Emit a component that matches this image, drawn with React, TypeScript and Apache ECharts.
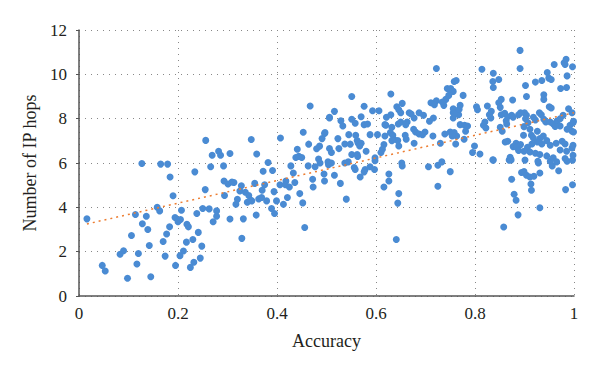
import React, { useEffect, useRef } from "react";
import * as echarts from "echarts";

const xTicks = [0, 0.2, 0.4, 0.6, 0.8, 1];
const yTicks = [0, 2, 4, 6, 8, 10, 12];

// [accuracy, IP hops], grouped by region
const lowRegion: [number, number][] = [
  [0.127,5.98],[0.165,5.95],[0.179,5.95],[0.234,5.6],[0.184,5.37],[0.255,4.8],[0.19,4.52],[0.158,4.0],
  [0.163,3.84],[0.207,3.87],[0.25,3.95],[0.016,3.48],[0.114,3.68],[0.136,3.6],[0.194,3.54],[0.205,3.45],
  [0.2,3.35],[0.238,3.72],[0.128,3.26],[0.139,3.0],[0.183,3.12],[0.218,3.24],[0.221,3.12],[0.241,2.87],
  [0.177,2.8],[0.106,2.73],[0.142,2.28],[0.17,2.46],[0.217,2.43],[0.23,2.55],[0.09,2.04],[0.083,1.88],
  [0.12,1.92],[0.211,2.03],[0.204,1.82],[0.248,2.25],[0.174,1.8],[0.232,1.52],[0.245,1.71],[0.195,1.38],
  [0.225,1.29],[0.117,1.44],[0.047,1.38],[0.053,1.13],[0.098,0.8],[0.145,0.87],
];

const midUpper: [number, number][] = [
  [0.467,8.57],[0.506,8.03],[0.256,7.02],[0.348,7.06],[0.407,7.13],[0.453,7.39],[0.496,7.33],[0.491,7.1],
  [0.464,6.85],[0.486,6.76],[0.48,6.64],[0.441,6.62],[0.282,6.53],[0.269,6.35],[0.286,6.35],[0.305,6.43],
  [0.359,6.41],[0.438,6.25],[0.444,6.3],[0.45,6.25],[0.484,6.18],[0.503,6.05],[0.382,6.02],
];

const midLower: [number, number][] = [
  [0.266,5.83],[0.292,5.87],[0.372,5.63],[0.391,5.66],[0.428,5.87],[0.433,5.55],[0.463,5.87],[0.477,5.83],
  [0.487,6.0],[0.495,5.5],[0.496,5.19],[0.472,5.27],[0.473,4.92],[0.293,5.19],[0.301,5.05],[0.309,5.14],
  [0.313,5.12],[0.328,4.97],[0.325,4.74],[0.355,5.08],[0.375,5.02],[0.37,4.77],[0.394,4.71],[0.406,5.02],
  [0.418,5.19],[0.417,5.02],[0.425,4.92],[0.436,5.12],[0.446,4.62],[0.294,4.53],[0.336,4.68],[0.343,4.53],
  [0.347,4.32],[0.32,4.36],[0.317,4.14],[0.34,4.23],[0.349,4.29],[0.363,4.38],[0.369,4.44],[0.379,4.29],
  [0.399,4.29],[0.413,4.14],[0.421,4.44],[0.452,4.2],[0.389,3.95],[0.395,3.72],[0.358,3.65],[0.263,3.93],
  [0.278,3.84],[0.278,3.6],[0.271,3.35],[0.305,3.47],[0.332,3.48],[0.456,3.09],[0.329,2.6],
];

const centerLower: [number, number][] = [
  [0.516,5.45],[0.528,5.08],[0.54,4.37],[0.504,5.92],[0.51,6.0],[0.537,6.0],[0.544,6.05],[0.556,5.8],
  [0.558,5.71],[0.568,5.37],[0.578,5.71],[0.576,5.6],[0.588,5.83],[0.597,5.71],[0.598,6.1],[0.626,5.5],
  [0.626,5.19],[0.616,4.92],[0.646,4.62],[0.644,4.19],[0.641,2.55],[0.652,6.0],[0.653,5.87],[0.706,5.83],
  [0.725,5.9],[0.733,6.05],[0.725,4.95],[0.75,5.61],
];

const rightLower: [number, number][] = [
  [0.837,6.13],[0.869,6.13],[0.901,6.13],[0.928,6.0],[0.956,5.87],[0.986,6.08],[0.997,6.13],[0.969,5.65],
  [0.894,5.57],[0.899,5.61],[0.904,5.45],[0.911,5.37],[0.919,5.4],[0.931,5.55],[0.874,5.27],[0.913,5.05],
  [0.914,4.77],[0.879,4.59],[0.883,4.32],[0.997,5.02],[0.983,4.8],[0.931,3.98],[0.887,3.66],[0.858,3.11],
];

const centerUpper: [number, number][] = [
  [0.722,10.26],[0.63,9.11],[0.551,9.0],[0.576,8.56],[0.653,8.69],[0.642,8.54],[0.646,8.4],[0.65,8.27],
  [0.593,8.36],[0.606,8.36],[0.516,8.33],[0.506,8.06],[0.529,7.91],[0.533,7.67],[0.551,7.97],[0.558,7.79],
  [0.57,8.09],[0.576,7.73],[0.583,7.76],[0.621,8.06],[0.63,8.18],[0.618,7.73],[0.632,7.61],[0.629,7.37],
  [0.645,7.76],[0.65,7.85],[0.667,8.27],[0.671,8.21],[0.663,7.85],[0.66,7.73],[0.687,8.27],[0.696,8.15],
  [0.677,8.03],[0.708,7.88],[0.716,8.03],[0.711,8.72],[0.722,8.81],[0.718,8.63],[0.737,8.6],[0.741,8.87],
  [0.734,8.75],[0.744,9.36],[0.752,9.27],[0.747,9.05],[0.758,9.68],[0.756,8.45],[0.756,8.27],[0.497,7.37],
  [0.523,7.1],[0.545,7.28],[0.559,7.25],[0.562,7.01],[0.564,6.89],[0.57,6.89],[0.567,6.77],[0.537,6.86],
  [0.548,6.85],[0.525,6.65],[0.551,6.38],[0.562,6.38],[0.563,6.29],[0.58,6.53],[0.588,7.28],[0.603,7.28],
  [0.62,7.7],[0.618,7.22],[0.636,7.07],[0.634,7.25],[0.644,7.01],[0.646,6.77],[0.632,7.01],[0.659,7.25],
  [0.661,7.07],[0.676,7.52],[0.68,7.4],[0.687,7.31],[0.699,7.4],[0.694,7.28],[0.616,6.83],[0.613,6.62],
  [0.598,6.23],[0.61,6.47],[0.677,6.89],[0.715,7.22],[0.73,6.89],[0.739,7.31],[0.75,7.4],[0.758,7.37],
  [0.754,7.22],[0.506,6.65],[0.51,6.47],
];

const rightUpper: [number, number][] = [
  [0.891,11.08],[0.891,10.26],[0.814,10.23],[0.837,10.05],[0.984,10.68],[0.98,10.52],[0.997,10.34],[0.982,10.44],
  [0.96,10.44],[0.762,9.72],[0.836,9.68],[0.848,9.77],[0.837,9.41],[0.902,9.5],[0.922,9.65],[0.935,9.72],
  [0.946,10.08],[0.949,9.83],[0.954,9.77],[0.986,9.93],[0.973,9.36],[0.985,9.41],[0.776,9.05],[0.751,9.36],
  [0.756,9.23],[0.853,8.87],[0.848,8.72],[0.851,8.51],[0.904,9.0],[0.939,9.08],[0.939,8.87],[0.95,8.54],
  [0.954,8.48],[0.989,8.45],[0.996,8.27],[0.77,8.6],[0.803,8.54],[0.805,8.4],[0.825,8.57],[0.833,8.33],
  [0.829,8.18],[0.832,8.03],[0.82,7.85],[0.817,7.7],[0.822,7.58],[0.756,8.03],[0.767,8.18],[0.77,7.73],
  [0.779,7.7],[0.853,8.18],[0.86,8.24],[0.866,8.09],[0.874,8.15],[0.877,8.06],[0.863,7.91],[0.864,7.76],
  [0.851,7.61],[0.855,7.43],[0.9,8.27],[0.904,8.15],[0.902,8.0],[0.918,8.06],[0.922,7.94],[0.907,7.82],
  [0.899,7.64],[0.898,7.25],[0.911,7.52],[0.93,8.27],[0.934,8.18],[0.939,7.97],[0.943,7.85],[0.952,7.85],
  [0.958,7.76],[0.966,7.91],[0.972,8.0],[0.978,8.15],[0.972,7.67],[0.962,7.65],[0.992,7.7],[0.998,7.82],
  [0.999,7.88],[0.986,7.52],[0.996,7.43],[0.999,7.4],[0.926,7.43],[0.914,7.25],[0.918,7.13],[0.931,7.1],
  [0.938,7.22],[0.945,7.01],[0.926,6.95],[0.915,6.86],[0.935,6.86],[0.952,6.8],[0.964,6.89],[0.976,6.98],
  [0.982,6.86],[0.972,6.59],[0.985,6.53],[0.996,6.68],[0.998,6.8],[0.866,6.98],[0.861,6.95],[0.883,6.89],
  [0.892,6.83],[0.906,6.71],[0.911,6.5],[0.922,6.44],[0.931,6.38],[0.945,6.32],[0.927,6.08],[0.952,6.08],
  [0.958,6.23],[0.965,6.05],[0.982,6.2],[0.998,6.35],[0.877,6.74],[0.884,6.71],[0.888,6.56],[0.899,6.53],
  [0.871,6.26],[0.873,6.14],[0.836,6.14],[0.81,6.41],[0.799,6.77],[0.795,6.47],[0.763,7.22],[0.761,6.86],
  [0.778,7.07],[0.785,7.67],[0.754,7.25],[0.781,7.43],[0.759,8.24],[0.768,8.42],[0.888,8.18],[0.892,8.27],
  [0.876,8.84],
];

const trendAccuracy = [0.016, 1];
const trendHops = [3.25, 8.27];

const FONT = "Liberation Serif";

export default function App() {
  const ref = useRef<HTMLDivElement>(null);
  useEffect(() => {
    if (!ref.current) return;
    const chart = echarts.init(ref.current, null, { renderer: "svg" });
    const points = [
      ...lowRegion, ...midUpper, ...midLower, ...centerLower,
      ...rightLower, ...centerUpper, ...rightUpper,
    ];
    chart.setOption({
      animation: false,
      backgroundColor: "#ffffff",
      grid: { left: 71, right: 34, top: 22, bottom: 87 },
      xAxis: {
        type: "value",
        min: xTicks[0],
        max: xTicks[xTicks.length - 1],
        interval: 0.2,
        name: "Accuracy",
        nameLocation: "middle",
        nameGap: 36,
        nameTextStyle: { fontFamily: FONT, fontSize: 18, color: "#231f20" },
        axisLine: { show: true, lineStyle: { color: "#555", width: 1.5 } },
        axisTick: { show: false },
        axisLabel: { fontFamily: FONT, fontSize: 17, color: "#231f20", margin: 9 },
        splitLine: { show: true, lineStyle: { type: [1, 5], color: "#888", width: 1 } },
      },
      yAxis: {
        type: "value",
        min: yTicks[0],
        max: yTicks[yTicks.length - 1],
        interval: 2,
        name: "Number of IP hops",
        nameLocation: "middle",
        nameGap: 34,
        nameTextStyle: { fontFamily: FONT, fontSize: 18, color: "#231f20" },
        axisLine: { show: true, lineStyle: { color: "#555", width: 1.5 } },
        axisTick: { show: true, length: 3, lineStyle: { color: "#555" } },
        axisLabel: { fontFamily: FONT, fontSize: 17, color: "#231f20", margin: 12 },
        splitLine: { show: true, lineStyle: { type: [1, 5], color: "#888", width: 1 } },
      },
      series: [
        {
          type: "scatter",
          data: points,
          symbolSize: 7,
          itemStyle: { color: "#4a8bd3", opacity: 1 },
          z: 2,
        },
        {
          type: "line",
          data: trendAccuracy.map((x, i) => [x, trendHops[i]]),
          symbol: "none",
          lineStyle: { color: "#ed7d31", type: [2, 4], width: 1.5 },
          z: 10,
          zlevel: 1,
        },
      ],
    });
    return () => chart.dispose();
  }, []);
  return <div ref={ref} style={{ width: 600, height: 375 }} />;
}
